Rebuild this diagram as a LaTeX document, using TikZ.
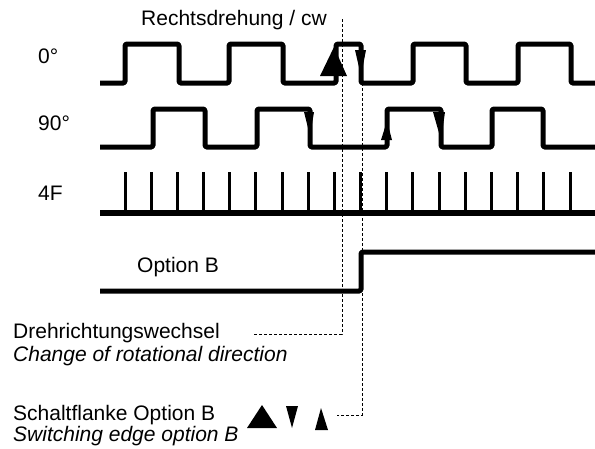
\documentclass[tikz,border=0pt]{standalone}
\usepackage{fontspec}
\setmainfont{Liberation Sans}
\begin{document}
\begin{tikzpicture}[x=1pt,y=-1pt,
  signal/.style={line width=5pt, rounded corners=1.5pt, line join=round},
  tickline/.style={line width=3pt},
  guide/.style={line width=0.8pt, dash pattern=on 3pt off 2pt},
  lbl/.style={anchor=base west, inner sep=0pt, font=\fontsize{21}{24}\selectfont},
  ilbl/.style={lbl, font=\fontsize{21}{24}\selectfont\itshape},
  tri/.style={fill=black, draw=none}]
\useasboundingbox (0,0) rectangle (595,448);
% labels
\node[lbl] (l0) at (38,63) {0°};
\node[lbl] (l90) at (38,130) {90°};
\node[lbl] (l4f) at (38,200) {4F};
\node[lbl] (lopt) at (137,272) {Option B};
\node[lbl] (lcw) at (141,25) {Rechtsdrehung / cw};
\node[lbl] (ldw) at (13,338) {Drehrichtungswechsel};
\node[ilbl] (lcd) at (13,361) {Change of rotational direction};
\node[lbl] (lsf) at (13,420) {Schaltflanke Option B};
\node[ilbl] (lse) at (13,441) {Switching edge option B};
% 0 deg signal
\draw[signal] (100,83) -- (125,83) -- (125,44) -- (179,44) -- (179,83) -- (229,83) -- (229,44) -- (283,44) -- (283,83) -- (336,83) -- (336,44) -- (361,44) -- (361,83) -- (413,83) -- (413,44) -- (466,44) -- (466,83) -- (518,83) -- (518,44) -- (571,44) -- (571,83) -- (595,83);
% 90 deg signal
\draw[signal] (100,147) -- (153,147) -- (153,109) -- (205,109) -- (205,147) -- (257,147) -- (257,109) -- (310,109) -- (310,147) -- (387,147) -- (387,109) -- (441,109) -- (441,147) -- (492,147) -- (492,109) -- (543,109) -- (543,147) -- (595,147);
% 4F
\draw[line width=6pt] (100,213) -- (595,213);
\foreach \i in {0,...,17} {
  \draw[tickline] ({125+\i*26.18},172) -- ({125+\i*26.18},213);
}
% Option B
\draw[signal] (100,291) -- (361,291) -- (361,252) -- (595,252);
% edge markers
\fill[tri] (320,76) -- (334,47) -- (347,76) -- cycle;
\fill[tri] (355,50) -- (366,50) -- (361,76) -- cycle;
\fill[tri] (304,112) -- (314,112) -- (310,136) -- cycle;
\fill[tri] (381,140) -- (387,121) -- (392,140) -- cycle;
\fill[tri] (433,112) -- (445,112) -- (441,140) -- cycle;
% legend markers
\fill[tri] (247,428) -- (262,405) -- (277,428) -- cycle;
\fill[tri] (286,406) -- (298,406) -- (292,428) -- cycle;
\fill[tri] (315,430) -- (321,408) -- (328,430) -- cycle;
\coordinate (m3) at (337,415);
% guide lines
\coordinate (g1top) at (342,19);
\coordinate (g1end) at (253,334);
\coordinate (g2top) at (362,48);
\draw[guide] (g1top) -- (342,334) -- (g1end);
\draw[guide] (g2top) -- (362,415) -- (m3);
\end{tikzpicture}
\end{document}
